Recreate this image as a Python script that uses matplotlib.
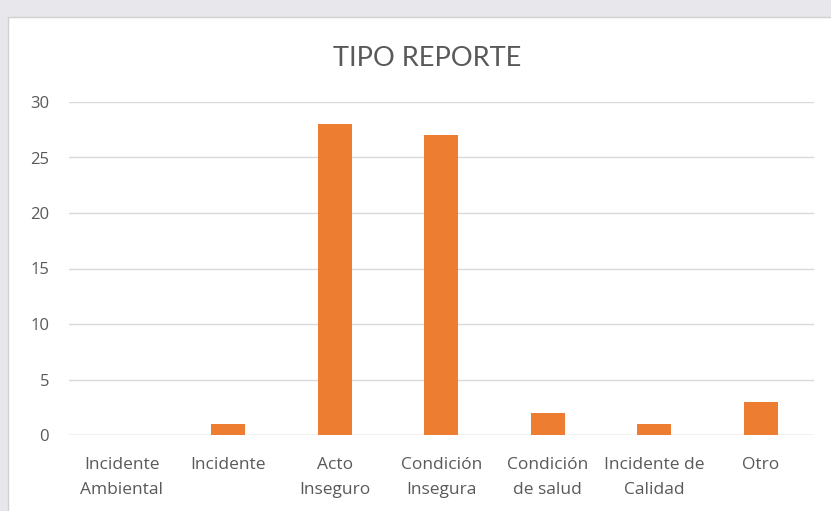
import matplotlib
matplotlib.use("Agg")
import matplotlib.pyplot as plt
from matplotlib.patches import Rectangle

categories = ["Incidente\nAmbiental", "Incidente", "Acto\nInseguro", "Condición\nInsegura",
              "Condición\nde salud", "Incidente de\nCalidad", "Otro"]
values = [0, 1, 28, 27, 2, 1, 3]
yticks = [0, 5, 10, 15, 20, 25, 30]
title = "TIPO REPORTE"

plt.rcParams['font.family'] = ['Lato', 'DejaVu Sans']

W, H = 831, 511
fig = plt.figure(figsize=(W / 100, H / 100), dpi=100)
fig.patch.set_facecolor("#e8e8ec")
# white chart area
bg = fig.add_axes([0, 0, 1, 1], zorder=-10)
bg.set_xlim(0, W)
bg.set_ylim(0, H)
bg.axis("off")
bg.add_patch(Rectangle((8, -2), W - 6, H - 17 + 2, facecolor="white",
                       edgecolor="#d0d0d0", linewidth=1.0))

left, right = 68.5 / W, 814 / W
bottom, top = 1 - 435 / H, 1 - 102 / H
ax = fig.add_axes([left, bottom, right - left, top - bottom])
ax.set_facecolor("none")

x = list(range(len(categories)))
ax.bar(x, values, width=0.32, color="#ED7D31", zorder=3)
ax.set_xlim(-0.5, len(categories) - 0.5)
ax.set_ylim(0, 30)
ax.set_yticks(yticks)
ax.set_yticklabels([str(v) for v in yticks], fontsize=12, color="#595959",
                   family=['Open Sans', 'DejaVu Sans'])
ax.set_xticks(x)
ax.set_xticklabels(categories, fontsize=12.5, color="#595959", linespacing=1.7,
                   family=['Open Sans', 'DejaVu Sans'])
ax.tick_params(axis='both', length=0)
ax.tick_params(axis='x', pad=16)
ax.tick_params(axis='y', pad=14)
ax.grid(axis='y', color="#d9d9d9", linewidth=1.0, zorder=0)
for s in ax.spines.values():
    s.set_visible(False)
ax.axhline(0, color="#d9d9d9", linewidth=1.0, zorder=2)

fig.text(427 / W, 1 - 58 / H, title, ha="center", va="center",
         fontsize=19.5, color="#595959")

fig.savefig("out.png", dpi=100, facecolor=fig.get_facecolor())
